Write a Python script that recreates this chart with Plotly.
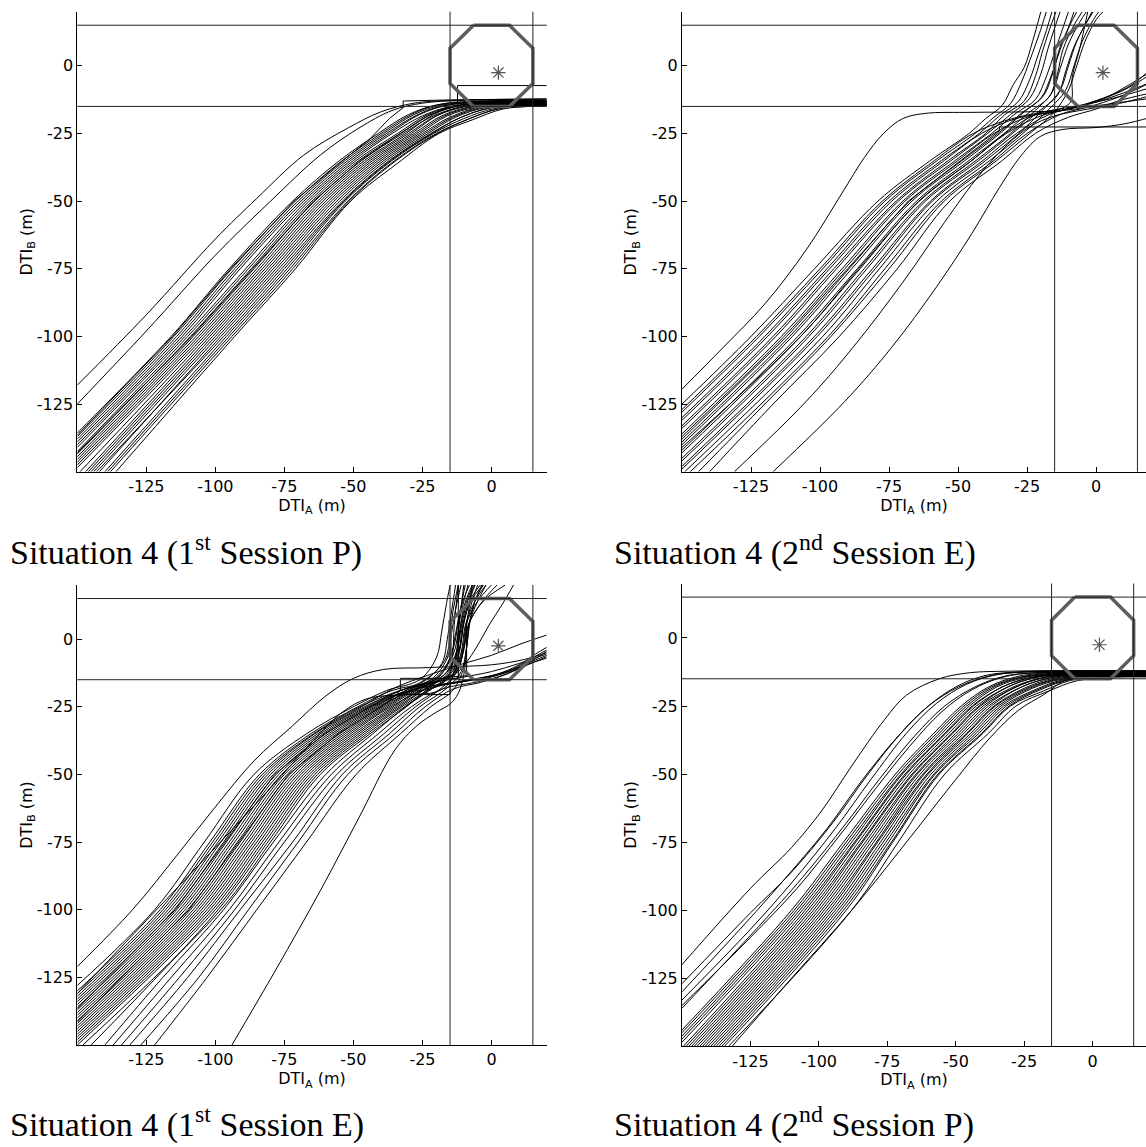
import plotly.graph_objects as go

# ---------------- data ----------------
X_TICKS = [-125, -100, -75, -50, -25, 0]
Y_TICKS = [0, -25, -50, -75, -100, -125]
TITLES = ["Situation 4 (1<sup>st</sup> Session P)",
          "Situation 4 (2<sup>nd</sup> Session E)",
          "Situation 4 (1<sup>st</sup> Session E)",
          "Situation 4 (2<sup>nd</sup> Session P)"]
BOUND = 15
OCT_X = [-6.5, 6.5, 15, 15, 6.5, -6.5, -15, -15, -6.5]
OCT_Y = [15, 15, 6.5, -6.5, -15, -15, -6.5, 6.5, 15]
STAR_X = [2.5]
STAR_Y = [-2.5]

# Situation 4 (1st Session P)
P1_LINES = [
    [[-150,-118],[-125,-92],[-100,-64],[-85,-49],[-68,-33],[-52,-23],[-40,-17],[-28,-13.8],[-15,-12.8],[20,-12.3]],
    [[-150,-125],[-125,-98],[-100,-70],[-80,-50],[-62,-33],[-48,-23],[-36,-16.5],[-25,-13.8],[-10,-12.8],[20,-12.6]],
    [[-150,-135.7],[-116,-100],[-95,-75],[-72,-50],[-55,-35],[-41,-25],[-30,-18],[-20,-14.5],[-5,-13.2],[20,-13]],
    [[-150,-137],[-115,-100],[-94,-75],[-71,-50],[-54,-35],[-40,-25],[-29,-18],[-19,-14.3],[-4,-13],[20,-12.8]],
    [[-150,-138],[-114,-100],[-93,-75],[-70,-50],[-53,-35],[-39,-25],[-28,-18],[-18,-14.5],[-3,-13.3],[20,-13.2]],
    [[-150,-139],[-113,-100],[-92,-75],[-69,-50],[-52,-35],[-38,-25],[-27,-18.2],[-17,-14.6],[-1,-13.4],[20,-13.3]],
    [[-150,-140],[-112,-100],[-91,-75],[-68,-50],[-51,-35],[-37,-25],[-26,-18],[-16,-14.6],[0,-13.4],[20,-13.1]],
    [[-150,-141],[-111,-100],[-89,-75],[-67,-50],[-50,-35],[-36,-25],[-25,-18.5],[-14,-14.8],[2,-13.6],[20,-13.4]],
    [[-150,-142.5],[-110,-100],[-88,-75],[-66,-50],[-49,-35],[-34,-25],[-23,-18],[-12,-14.6],[3,-13.5],[20,-13.5]],
    [[-150,-143.5],[-109,-100],[-87,-75],[-65,-50],[-48,-35],[-33,-25],[-22,-18],[-11,-14.8],[4,-13.8],[20,-13.7]],
    [[-150,-144.5],[-108,-100],[-86,-75],[-64,-50],[-47,-35],[-32,-25],[-21,-18.5],[-10,-15],[5,-14],[20,-13.8]],
    [[-150,-145.5],[-107,-100],[-85,-75],[-63,-50],[-46,-35],[-31,-25],[-21,-18],[-11,-14.5],[4,-13.3],[20,-13]],
    [[-150,-146.5],[-106,-100],[-84,-75],[-62,-50],[-45,-35],[-30,-25],[-20,-18.5],[-9,-15],[6,-14],[20,-14]],
    [[-150,-147.5],[-105,-100],[-83,-75],[-61,-50],[-44,-35],[-29,-25],[-19,-18],[-8,-14.6],[7,-13.6],[20,-13.3]],
    [[-150,-148.5],[-104,-100],[-82,-75],[-60,-50],[-43,-35],[-28,-25],[-18,-18.5],[-7,-15],[8,-14],[20,-14]],
    [[-149,-150],[-103,-100],[-81,-75],[-59,-50],[-42,-35],[-27,-25],[-17,-18.5],[-6,-15],[8,-14],[20,-13.6]],
    [[-147,-150],[-102,-100],[-80,-75],[-58,-50],[-41,-35],[-26,-25],[-16,-18.5],[-5,-15.2],[9,-14.2],[20,-14]],
    [[-146,-150],[-101,-100],[-79,-75],[-57,-50],[-40,-35],[-25,-25],[-15,-19],[-4,-15.2],[10,-14.3],[20,-14.1]],
    [[-145,-150],[-100,-100],[-78,-75],[-56,-50],[-39,-35],[-24,-25],[-14,-19],[-3,-15.3],[10,-14.4],[20,-14.2]],
    [[-144,-150],[-99,-100],[-77,-75],[-55,-50],[-38,-35],[-23,-25],[-13,-19],[-2,-15.4],[11,-14.5],[20,-14.3]],
    [[-143,-150],[-97,-100],[-75,-75],[-53.5,-50],[-36.5,-35],[-21.5,-25],[-11,-19],[0,-15.5],[12,-14.5],[20,-14.4]],
    [[-142,-150],[-98,-100],[-76,-75],[-54,-50],[-37,-35],[-22,-25],[-12,-19.5],[-1,-15.6],[12,-14.6],[20,-14.4]],
    [[-140,-150],[-96,-100],[-74,-75],[-53,-50],[-36,-35],[-21,-25],[-10,-19.5],[1,-15.8],[12,-14.8],[20,-14.6]],
    [[-139,-150],[-95,-100],[-73,-75],[-52,-50],[-35,-35],[-20,-25],[-9,-20],[2,-16],[13,-15],[20,-14.8]],
    [[-138,-150],[-94,-100],[-72,-75],[-51.5,-50],[-34.5,-35],[-19.5,-25],[-8,-19.5],[3,-15.8],[13,-14.9],[20,-14.7]],
    [[-136,-150],[-93,-100],[-71,-75],[-51,-50],[-34,-36],[-19,-25],[-7,-20],[4,-16],[14,-15],[20,-14.8]],
]
P1_STEPS = [
    [[-150,-136.5],[-115.5,-100],[-94.5,-75],[-71.5,-50],[-55,-36],[-44,-27],[-37,-19.5],[-32,-15.5],[-32,-13],[-15,-12.6],[20,-12.2]],
    [[-150,-143],[-108.5,-100],[-86.5,-75],[-64.5,-50],[-47.5,-35],[-33,-25],[-23,-18.5],[-16,-15.5],[-12.3,-14.5],[-12.3,-7.3],[20,-7.3]],
]

# Situation 4 (2nd Session E)
P2_LINES = [
    [[-150,-119.5],[-135,-104],[-120,-88],[-105,-68],[-92,-47],[-84,-34],[-77,-25],[-70,-19.5],[-62,-17.6],[-45,-17.2],[-25,-17],[-12,-16.5],[2,-14.5],[20,-12]],
    [[-150,-125],[-125,-100],[-102,-75],[-79,-50],[-60,-35],[-46,-25],[-40,-19.5],[-34,-14.6],[-30,-7],[-26,-0.5],[-23,9],[-20,20]],
    [[-150,-127],[-123,-100],[-100,-75],[-77.4,-50],[-58.5,-35],[-44.5,-25],[-32,-20],[-19,-17],[-5,-14.5],[8,-11.5],[20,-8]],
    [[-150,-128],[-122,-100],[-99,-75],[-76.5,-50],[-57.5,-35],[-43.8,-25],[-37,-19],[-31,-14],[-27,-6],[-24,2],[-20.5,12],[-18,20]],
    [[-150,-130],[-120,-100],[-97.5,-75],[-75,-50],[-56,-35],[-42.3,-25],[-35,-18.5],[-28,-13],[-24,-5],[-21,4],[-18,13],[-16,20]],
    [[-150,-131],[-119,-100],[-96.5,-75],[-74,-50],[-55,-35],[-41.5,-25],[-29,-19.5],[-16,-17],[-2,-14],[10,-10],[20,-6]],
    [[-150,-133],[-117,-100],[-95,-75],[-72.4,-50],[-53.5,-35],[-40,-25],[-33,-18],[-26,-13],[-22,-4],[-19.5,5],[-17,13],[-14.5,20]],
    [[-150,-134],[-116,-100],[-94,-75],[-71.6,-50],[-52.5,-35],[-39.3,-25],[-31,-18],[-24,-12],[-20,-3],[-17.5,6],[-15,14],[-13,20]],
    [[-150,-136],[-114,-100],[-92,-75],[-70,-50],[-51,-35],[-37.8,-25],[-29,-17.5],[-22,-12.5],[-18,-4],[-15,5],[-12,14],[-10,20]],
    [[-150,-137],[-113,-100],[-91,-75],[-69.2,-50],[-50,-35],[-37,-25],[-25,-19],[-12,-16.5],[0,-13],[10,-9],[20,-3]],
    [[-150,-139],[-111,-100],[-89.5,-75],[-67.5,-50],[-48.5,-35],[-35.5,-25],[-27,-17.5],[-20,-12],[-16,-3],[-13,6],[-10,14],[-8,20]],
    [[-150,-140],[-110,-100],[-88.5,-75],[-66.7,-50],[-47.5,-35],[-34.8,-25],[-26,-17],[-19,-11],[-15.5,-2],[-13,7],[-9.5,15],[-7,20]],
    [[-150,-142],[-108,-100],[-86.5,-75],[-65,-50],[-46,-35],[-33.3,-25],[-24,-17],[-17,-11.5],[-14,-3],[-12,6],[-8,15],[-5,20]],
    [[-150,-143],[-107,-100],[-85.5,-75],[-64.2,-50],[-45,-35],[-32.5,-25],[-20,-18.5],[-8,-15.5],[3,-12],[12,-7],[20,-2]],
    [[-150,-145],[-105,-100],[-84,-75],[-62.6,-50],[-43.5,-35],[-31,-25],[-22,-16.5],[-16,-10],[-13,-1],[-10,8],[-6,16],[-3.5,20]],
    [[-150,-146],[-104,-100],[-83,-75],[-61.8,-50],[-42.5,-35],[-30.3,-25],[-21,-17],[-14,-11],[-11,-2],[-8,7],[-4,15],[-1,20]],
    [[-150,-148],[-102,-100],[-81,-75],[-60,-50],[-41,-35],[-28.8,-25],[-17,-18],[-5,-14.5],[5,-11],[13,-7],[20,-1]],
    [[-150,-149],[-101,-100],[-80,-75],[-59.3,-50],[-40,-35],[-28,-25],[-19,-16],[-13,-9],[-10,0],[-7,9],[-3,17],[-1.5,20]],
    [[-149,-150],[-99,-100],[-78.5,-75],[-57.7,-50],[-38.5,-35],[-26.5,-25],[-17,-16],[-11,-9],[-8,0],[-5,9],[-1,17],[1,20]],
    [[-147,-150],[-97,-100],[-76.5,-75],[-56,-50],[-37,-35],[-25,-25],[-13,-18],[-2,-15],[7,-12],[14,-9],[20,-6]],
    [[-144,-150],[-120,-125],[-96,-100],[-75,-75],[-55,-50],[-36,-35],[-24,-25],[-15,-17],[-10,-9],[-7,0],[-4,9],[0,17],[2.5,20]],
    [[-140,-150],[-117,-125],[-93,-100],[-72,-75],[-53,-50],[-34,-35],[-22,-25],[-10,-19],[0,-16],[8,-13],[20,-10]],
    [[-131,-150],[-105,-124],[-88,-104],[-70,-80],[-55,-58],[-42,-40],[-32,-29],[-24,-22.5],[-15,-18.5],[-3,-16],[8,-14],[20,-11]],
    [[-117,-150],[-91,-124],[-74,-104],[-58,-82],[-45,-62],[-35,-45],[-27,-33],[-20,-26],[-12,-23.5],[0,-22.8],[10,-21.5],[20,-19]],
    [[-150,-141],[-107,-100],[-86,-75],[-64,-50],[-45,-35],[-33,-25],[-22,-18],[-12,-15.5],[-9,-13],[-8.6,-4],[-6,6],[-3,20]],
]
P2_STEPS = [
    [[-150,-138],[-112,-100],[-90,-75],[-68,-50],[-49,-35],[-40,-28],[-35,-24],[-35,-22.6],[20,-22.6]],
]

# Situation 4 (1st Session E)
P3_LINES = [
    [[-150,-121],[-130,-100],[-114,-80],[-100,-62],[-86,-45],[-72,-32],[-60,-21],[-50,-14.5],[-39,-11.2],[-25,-10.6],[-15,-10.2],[0,-9.5],[12,-7.5],[20,-5]],
    [[-150,-131],[-125,-104],[-100,-77],[-80,-55],[-65,-38],[-54,-27],[-45,-22],[-32,-20.5],[-20,-19.5],[-15,-16],[-13,-8],[-12,3],[-10,20]],
    [[-150,-128],[-122,-100],[-104,-75],[-86,-50],[-67,-35],[-50,-25],[-38,-19],[-26,-15],[-20,-7],[-18,3],[-16.5,12],[-15,20]],
    [[-150,-130],[-120,-100],[-102,-75],[-84,-50],[-65.5,-35],[-48.4,-25],[-36,-19],[-24,-16.5],[-10,-14],[0,-12],[10,-9],[20,-5.5]],
    [[-150,-131],[-119,-100],[-101,-75],[-83,-50],[-64.5,-35],[-47.6,-25],[-36,-20],[-25,-16],[-18,-9],[-16,0],[-14.5,10],[-13,20]],
    [[-150,-132],[-118,-100],[-100,-75],[-82,-50],[-64,-35],[-47,-25],[-35,-18],[-22,-13],[-10,-9],[0,-6],[10,-2],[20,1.5]],
    [[-150,-133],[-117,-100],[-99,-75],[-81,-50],[-63,-35],[-46,-25],[-34,-19.5],[-24,-15],[-17,-8],[-15,1],[-14,10],[-12,20]],
    [[-150,-134],[-116,-100],[-98,-75],[-80,-50],[-62,-35],[-45.2,-25],[-33,-19],[-22,-15],[-16,-7],[-14.5,2],[-13,11],[-11,20]],
    [[-150,-135],[-115,-100],[-97,-75],[-79,-50],[-61,-35],[-44.4,-25],[-33,-20],[-21,-18],[-15.5,-14],[-14,-5],[-13.5,5],[-12,20]],
    [[-150,-136],[-114,-100],[-96,-75],[-78,-50],[-60,-35],[-43.6,-25],[-31,-19.5],[-20,-17],[-8,-15],[2,-13],[11,-10],[20,-7]],
    [[-150,-137],[-113,-100],[-95,-75],[-77,-50],[-59,-35],[-42.8,-25],[-31,-19],[-20,-14.5],[-14,-6],[-12,3],[-11,12],[-9.5,20]],
    [[-150,-138],[-112,-100],[-94,-75],[-76,-50],[-58,-35],[-42,-25],[-30,-18.5],[-20,-14],[-15,-7],[-13,2],[-11,12],[-8,20]],
    [[-150,-139],[-111,-100],[-93,-75],[-75,-50],[-57,-35],[-41.2,-25],[-29,-19],[-19,-15],[-13,-7],[-11.5,3],[-10,12],[-7,20]],
    [[-150,-140],[-110,-100],[-92,-75],[-74,-50],[-56,-35],[-40.4,-25],[-28,-18.5],[-16,-16.5],[-4,-14.5],[5,-12.5],[13,-9],[20,-6]],
    [[-150,-141],[-109,-100],[-91,-75],[-73,-50],[-55,-35],[-39.6,-25],[-28,-18],[-19,-14],[-14,-4],[-12,6],[-10,14],[-8.5,20]],
    [[-150,-142],[-108,-100],[-90,-75],[-72,-50],[-54,-35],[-38.8,-25],[-27,-18],[-17,-14],[-13,-6],[-11,4],[-9,13],[-6,20]],
    [[-150,-143],[-107,-100],[-89,-75],[-71,-50],[-53,-35],[-38,-25],[-26,-17.5],[-17,-13],[-12.5,-4],[-11,6],[-9,14],[-6.5,20]],
    [[-150,-144],[-106,-100],[-88,-75],[-70,-50],[-52,-35],[-37.2,-25],[-25,-17.5],[-16,-13.5],[-12,-5],[-10.5,5],[-8,14],[-4,20]],
    [[-150,-145],[-105,-100],[-87,-75],[-69,-50],[-51,-35],[-36.4,-25],[-24,-18.5],[-12,-16],[0,-14],[8,-11],[14,-7.5],[20,-4]],
    [[-150,-146],[-104,-100],[-86,-75],[-68,-50],[-50,-35],[-35.6,-25],[-24,-17],[-15,-13],[-11.5,-4],[-10,6],[-7.5,14],[-3,20]],
    [[-150,-147],[-103,-100],[-85,-75],[-67,-50],[-49,-35],[-34.8,-25],[-23,-17],[-14.5,-13.5],[-11,-5],[-9.5,5],[-6,14],[-2,20]],
    [[-150,-148],[-102,-100],[-84,-75],[-66,-50],[-48,-35],[-34,-25],[-22,-17],[-14,-13],[-10.5,-4],[-9,6],[-5,14],[0,20]],
    [[-150,-149],[-101,-100],[-83,-75],[-65,-50],[-47,-35],[-33.2,-25],[-21,-16.5],[-13,-12.5],[-10,-4],[-8.5,5],[-4,13],[2,20]],
    [[-150,-150],[-100,-100],[-82,-75],[-64,-50],[-46,-35],[-32.4,-25],[-21,-18],[-9,-15.5],[2,-13],[10,-9.5],[16,-5.5],[20,-3]],
    [[-148,-150],[-98,-100],[-80,-75],[-62,-50],[-44,-35],[-30.8,-25],[-20,-16],[-13,-12],[-10,-3],[-8,6],[-3,14],[5,20]],
    [[-145,-150],[-99,-100],[-81,-75],[-63,-50],[-45,-35],[-31.5,-25],[-20,-17],[-12,-12],[-6,-4],[-1,5],[4,13],[8,20]],
    [[-140,-150],[-119,-125],[-97,-100],[-79,-75],[-60,-50],[-43,-35],[-31,-25],[-21,-18],[-14,-13],[-11.5,-4],[-10,6],[-8,14],[-6,20]],
    [[-137,-150],[-116,-125],[-95,-100],[-77,-75],[-58,-50],[-41,-35],[-29,-25],[-18,-18.5],[-6,-16],[4,-13.5],[12,-10],[20,-6.5]],
    [[-134,-150],[-113,-125],[-93,-100],[-75,-75],[-56,-50],[-39,-35],[-27.5,-25],[-18,-18],[-12.5,-12],[-10,-3],[-9,6],[-7,14],[-5,20]],
    [[-131,-150],[-110,-125],[-91,-100],[-72,-75],[-54,-50],[-37,-35],[-26,-25],[-16,-18],[-11,-12],[-9,-3],[-8,6],[-6,14],[-3.5,20]],
    [[-127,-150],[-106,-125],[-88,-100],[-70,-75],[-52,-50],[-35,-35],[-24,-25],[-14,-18.5],[-4,-16],[5,-13],[13,-9],[20,-4.5]],
    [[-122,-150],[-103,-125],[-85,-100],[-67,-75],[-49,-50],[-33,-35],[-22,-25],[-14,-19],[-10.5,-12],[-9,-3],[-8,5],[-6,14],[-3,20]],
    [[-94,-150],[-78,-122],[-62,-93],[-48,-66],[-35,-41],[-27,-32],[-20,-27],[-15,-24],[-12,-20],[-10,-13],[-9,-3],[-8,6],[-5,14],[-2,20]],
]
P3_STEPS = [
    [[-150,-136.5],[-114.5,-100],[-96.5,-75],[-78.5,-50],[-60.5,-35],[-44,-25],[-38,-21.5],[-33,-20.5],[-15,-20.5],[-15,-14],[-9,-13.5],[-9,5],[-7,20]],
    [[-150,-141.5],[-109.5,-100],[-91.5,-75],[-73.5,-50],[-55.5,-35],[-40,-25],[-35,-21],[-33,-19],[-33,-14.5],[-12,-14.5],[-12,20]],
]

# Situation 4 (2nd Session P)
P4_LINES = [
    [[-150,-120],[-125,-92],[-110,-77],[-99,-63.5],[-88,-47],[-76,-30],[-68,-21],[-56,-15],[-45,-12.8],[-30,-12.2],[20,-12]],
    [[-150,-127],[-125,-101],[-110,-86],[-95,-68],[-82,-50],[-70,-35],[-60,-25],[-50,-18],[-40,-14],[-28,-12.5],[20,-12.3]],
    [[-150,-130],[-127,-105],[-112,-88],[-97,-70],[-84,-52],[-71,-36],[-60,-25],[-49,-18],[-38,-14],[-26,-12.6],[20,-12.5]],
    [[-150,-133],[-125,-107],[-110,-90],[-94,-70],[-81,-52],[-68,-35],[-57,-24],[-46,-17],[-35,-13.5],[-22,-12.4],[20,-12.2]],
    [[-150,-136],[-122,-106],[-106,-88],[-90,-68],[-78,-52],[-65,-36],[-54,-25],[-43,-18],[-32,-14],[-20,-12.8],[20,-12.6]],
    [[-150,-135],[-125,-110],[-108,-92],[-92,-72],[-79,-55],[-67,-40],[-55,-27],[-44,-19],[-33,-14.5],[-20,-12.7],[20,-12.8]],
    [[-150,-144],[-110,-100],[-91,-75],[-72,-50],[-58,-35],[-48,-25],[-38,-18],[-28,-14.3],[-16,-12.8],[20,-12.6]],
    [[-150,-145],[-109,-100],[-90,-75],[-71,-50],[-57,-35],[-47,-25],[-37,-18],[-27,-14.5],[-15,-13],[20,-12.8]],
    [[-150,-146.2],[-108,-100],[-89,-75],[-70,-50],[-56,-35],[-46,-25],[-36,-18],[-26,-14.5],[-14,-13.2],[20,-13]],
    [[-150,-147.3],[-107,-100],[-88,-75],[-69.5,-50],[-55,-35],[-45,-25],[-35,-18],[-25,-14.6],[-13,-13.1],[20,-12.9]],
    [[-150,-148.5],[-106,-100],[-87,-75],[-68.5,-50],[-54,-35],[-44,-25],[-34,-18.5],[-24,-14.8],[-12,-13.3],[20,-13.1]],
    [[-149.5,-150],[-105,-100],[-86.5,-75],[-68,-50],[-53.5,-35],[-43.5,-25],[-33,-18],[-23,-14.7],[-11,-13.2],[20,-13.3]],
    [[-148.5,-150],[-104,-100],[-85.5,-75],[-67,-50],[-52.5,-35],[-42.5,-25],[-32,-18.5],[-22,-14.8],[-10,-13.4],[20,-13.2]],
    [[-147.5,-150],[-103,-100],[-84.5,-75],[-66,-50],[-51.5,-35],[-41.5,-25],[-31,-18],[-21,-14.6],[-9,-13.1],[20,-12.9]],
    [[-146.5,-150],[-102,-100],[-84,-75],[-65.5,-50],[-51,-35],[-41,-25],[-30,-18.5],[-20,-15],[-8,-13.5],[20,-13.4]],
    [[-145.5,-150],[-101,-100],[-83,-75],[-64.5,-50],[-50,-35],[-40,-25],[-29,-18.5],[-19,-14.8],[-7,-13.3],[20,-13.1]],
    [[-144.5,-150],[-100,-100],[-82,-75],[-64,-50],[-49,-35],[-39,-25],[-28,-18],[-18,-14.7],[-6,-13.4],[20,-13.5]],
    [[-143.5,-150],[-99,-100],[-81,-75],[-63,-50],[-48,-35],[-38,-25],[-27,-18.5],[-17,-15],[-5,-13.6],[20,-13.4]],
    [[-142.5,-150],[-98,-100],[-80,-75],[-62,-50],[-47,-35],[-37,-25],[-26,-18],[-16,-14.8],[-4,-13.3],[20,-13.2]],
    [[-141.5,-150],[-97,-100],[-79,-75],[-61.5,-50],[-46,-35],[-36,-25],[-25,-18.5],[-15,-15],[-3,-13.7],[20,-13.6]],
    [[-140.5,-150],[-96,-100],[-78.5,-75],[-60.5,-50],[-45.5,-35],[-35.5,-25],[-24,-18.5],[-14,-15.2],[-2,-13.8],[20,-13.5]],
    [[-139.5,-150],[-95,-100],[-77.5,-75],[-60,-50],[-44.5,-35],[-34.5,-25],[-23,-18.5],[-13,-15.2],[-1,-13.9],[20,-13.7]],
    [[-138.5,-150],[-94,-100],[-76.5,-75],[-59,-50],[-43.5,-35],[-33.5,-25],[-22,-18.5],[-12,-15.3],[0,-14],[20,-13.8]],
    [[-137.5,-150],[-93,-100],[-75.5,-75],[-58,-50],[-42.5,-35],[-32.5,-25],[-21,-19],[-11,-15.4],[1,-14],[20,-13.9]],
    [[-136.5,-150],[-92,-100],[-74.5,-75],[-57.5,-50],[-41.5,-35],[-31.5,-25],[-20,-19],[-10,-15.5],[2,-14.2],[20,-14]],
    [[-135.5,-150],[-91,-100],[-73.5,-75],[-56.5,-50],[-40.5,-35],[-30.5,-25],[-19,-19],[-9,-15.5],[3,-14.3],[20,-14.1]],
    [[-134.5,-150],[-90,-100],[-73,-75],[-56,-50],[-40,-35],[-30,-25],[-18,-19.5],[-8,-15.6],[4,-14.4],[20,-14.2]],
    [[-133,-150],[-88,-100],[-71,-75],[-54,-50],[-38,-35],[-28,-25],[-16,-19.5],[-6,-15.8],[6,-14.5],[20,-14.3]],
    [[-131.7,-150],[-110,-125],[-88,-100],[-68,-75],[-50,-52],[-37.5,-36.7],[-27,-26.5],[-17.5,-20.6],[-9.5,-15.3],[0,-13.8],[20,-13.5]],
]

PANELS = [
    {"lines": P1_LINES, "steps": P1_STEPS},
    {"lines": P2_LINES, "steps": P2_STEPS},
    {"lines": P3_LINES, "steps": P3_STEPS},
    {"lines": P4_LINES, "steps": []},
]

# ---------------- layout geometry (pixels -> paper) ----------------
W, H = 1146, 1147
X_DOMAINS = [[77.3 / W, 546.7 / W], [682 / W, 1.0], [77.3 / W, 546.7 / W], [682 / W, 1.0]]
Y_DOMAINS = [[1 - 471.7 / H, 1 - 11.7 / H], [1 - 471.7 / H, 1 - 11.7 / H],
             [1 - 1045 / H, 1 - 585 / H], [1 - 1046.3 / H, 1 - 583.5 / H]]
X_RANGES = [[-150, 20], [-150, 18.1], [-150, 20], [-150, 19.5]]
TITLE_POS = [(8 / W, 1 - 550 / H), (612 / W, 1 - 550 / H),
             (8 / W, 1 - 1122 / H), (612 / W, 1 - 1122 / H)]

fig = go.Figure()
TICKFONT = dict(family="DejaVu Sans", size=16, color="black")

for i, panel in enumerate(PANELS):
    k = "" if i == 0 else str(i + 1)
    xref, yref = "x" + k, "y" + k
    for ln in panel["lines"]:
        fig.add_trace(go.Scatter(x=[p[0] for p in ln], y=[p[1] for p in ln], mode="lines",
                                 line=dict(color="black", width=1, shape="spline", smoothing=1.0),
                                 xaxis=xref, yaxis=yref, showlegend=False, hoverinfo="skip"))
    for ln in panel["steps"]:
        fig.add_trace(go.Scatter(x=[p[0] for p in ln], y=[p[1] for p in ln], mode="lines",
                                 line=dict(color="black", width=1),
                                 xaxis=xref, yaxis=yref, showlegend=False, hoverinfo="skip"))
    fig.add_trace(go.Scatter(x=OCT_X, y=OCT_Y, mode="lines",
                             line=dict(color="#5e5e5e", width=3.5),
                             xaxis=xref, yaxis=yref, showlegend=False, hoverinfo="skip"))
    fig.add_trace(go.Scatter(x=STAR_X, y=STAR_Y, mode="markers",
                             marker=dict(symbol="asterisk-open", size=12, color="#555555",
                                         line=dict(color="#555555", width=1.2)),
                             xaxis=xref, yaxis=yref, showlegend=False, hoverinfo="skip"))
    for v in (-BOUND, BOUND):
        fig.add_shape(type="line", xref=xref, yref=yref + " domain", x0=v, x1=v, y0=0, y1=1,
                      line=dict(color="#222222", width=1))
        fig.add_shape(type="line", xref=xref + " domain", yref=yref, x0=0, x1=1, y0=v, y1=v,
                      line=dict(color="#222222", width=1))
    axx = dict(domain=X_DOMAINS[i], range=X_RANGES[i], anchor=yref, showline=True,
               linecolor="black", linewidth=1, ticks="inside", ticklen=5, tickcolor="black",
               tickvals=X_TICKS, ticktext=[str(t) for t in X_TICKS], tickfont=TICKFONT,
               showgrid=False, zeroline=False,
               title=dict(text="DTI<sub>A</sub> (m)", font=TICKFONT, standoff=0))
    axy = dict(domain=Y_DOMAINS[i], range=[-150, 20], anchor=xref, showline=True,
               linecolor="black", linewidth=1, ticks="inside", ticklen=5, tickcolor="black",
               tickvals=Y_TICKS, ticktext=[str(t) for t in Y_TICKS], tickfont=TICKFONT,
               showgrid=False, zeroline=False,
               title=dict(text="DTI<sub>B</sub> (m)", font=TICKFONT, standoff=0))
    fig.layout["xaxis" + k] = axx
    fig.layout["yaxis" + k] = axy
    fig.add_annotation(text=TITLES[i], xref="paper", yref="paper", x=TITLE_POS[i][0],
                       y=TITLE_POS[i][1], xanchor="left", yanchor="middle", showarrow=False,
                       font=dict(family="Liberation Serif", size=34, color="black"))

fig.update_layout(width=W, height=H, margin=dict(l=0, r=0, t=0, b=0),
                  paper_bgcolor="white", plot_bgcolor="white")
fig.write_html("out.html", config={"displayModeBar": False},
               post_script="document.body.style.margin='0';document.body.style.overflow='hidden';")
